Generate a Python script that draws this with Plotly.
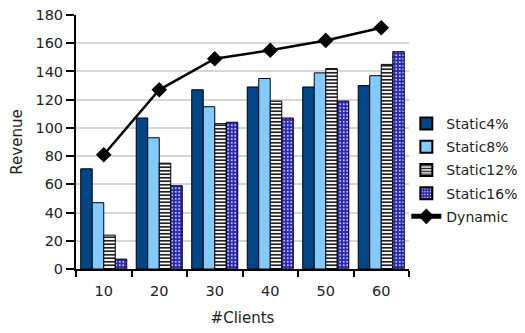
import plotly.graph_objects as go

clients = ["10", "20", "30", "40", "50", "60"]
static4 = [71, 107, 127, 129, 129, 130]
static8 = [47, 93, 115, 135, 139, 137]
static12 = [24, 75, 103, 119, 142, 145]
static16 = [7, 59, 104, 107, 119, 154]
dynamic = [81, 127, 149, 155, 162, 171]
y_ticks = [0, 20, 40, 60, 80, 100, 120, 140, 160, 180]

FONT = "DejaVu Sans, Liberation Sans, sans-serif"

fig = go.Figure()
line = dict(color="black", width=1)
fig.add_bar(x=clients, y=static4, name="Static4%", legendgroup="a",
            marker=dict(color="#004586", line=line))
fig.add_bar(x=clients, y=static8, name="Static8%", legendgroup="b",
            marker=dict(color="#83caff", line=line))
fig.add_bar(x=clients, y=static12, name="Static12%", legendgroup="c",
            marker=dict(color="white", line=line,
                        pattern=dict(shape="-", fgcolor="#222222", bgcolor="white",
                                     size=3.5, solidity=0.5, fillmode="replace")))
fig.add_bar(x=clients, y=static16, name="Static16%", legendgroup="d",
            marker=dict(color="#2a2ab0", line=line,
                        pattern=dict(shape=".", fgcolor="white", bgcolor="#2a2ab0",
                                     size=3.5, solidity=0.18, fillmode="replace")))
fig.add_scatter(x=clients, y=dynamic, name="Dynamic", mode="lines+markers", legendgroup="e",
                line=dict(color="black", width=2.5),
                marker=dict(symbol="diamond", size=12, color="black"))

fig.update_layout(
    width=545, height=325,
    margin=dict(l=68, r=144, t=7, b=64),
    paper_bgcolor="white", plot_bgcolor="white",
    font=dict(family=FONT, size=14.5, color="#222"),
    barmode="group", bargap=0.17, bargroupgap=0,
    showlegend=True,
    legend=dict(x=0.992, y=0.39, xanchor="left", yanchor="middle",
                font=dict(size=14), tracegroupgap=2, itemsizing="constant",
                bgcolor="rgba(0,0,0,0)"),
    xaxis=dict(title=dict(text="#Clients", standoff=14, font=dict(size=15)), showline=True,
               linecolor="black", linewidth=2, ticks="outside", tickson="boundaries",
               ticklen=6, tickwidth=1.5, tickcolor="black", showgrid=False, automargin=False,
               ticklabelstandoff=8),
    yaxis=dict(title=dict(text="Revenue", standoff=10, font=dict(size=15)), range=[0, 180],
               tickvals=y_ticks, showline=True, linecolor="black", linewidth=2,
               ticks="outside", ticklen=8, tickwidth=1.5, tickcolor="black",
               gridcolor="#d6d6d6", gridwidth=1.5, zeroline=False, automargin=False,
               ticklabeloverflow="allow"),
)
fig.write_html("out.html")
